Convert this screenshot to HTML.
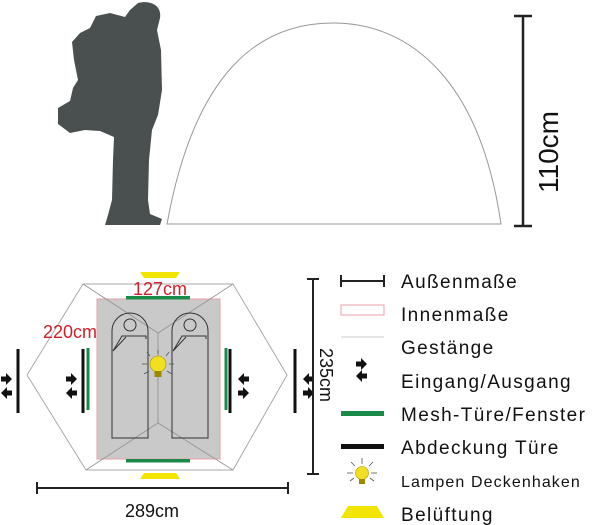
<!DOCTYPE html>
<html><head><meta charset="utf-8"><style>
body{margin:0;background:#fff;}
svg{display:block;font-family:"Liberation Sans",sans-serif;}
</style></head><body>
<svg width="600" height="525" viewBox="0 0 600 525" xmlns="http://www.w3.org/2000/svg">
<defs>
<g id="arrR"><path d="M0,-2.5 L5,-2.5 L5,-6 L11,0 L5,6 L5,2.5 L0,2.5 Z" fill="#111"/></g>
<g id="arrL"><path d="M11,-2.5 L6,-2.5 L6,-6 L0,0 L6,6 L6,2.5 L11,2.5 Z" fill="#111"/></g>
<g id="bag">
<path d="M0,125 L0,18 A18,18 0 0 1 36,18 L36,125 Z" fill="none" stroke="#333" stroke-width="1"/>
<circle cx="18" cy="12" r="6" fill="none" stroke="#333" stroke-width="1"/>
<path d="M1,38 L10,23 L34,23 L34,26 M1,38 L14,24" fill="none" stroke="#333" stroke-width="1"/>
</g>
</defs>
<!-- person -->
<path d="M138,3 C150,0 162,5 160,18 L157,30 L161,50 L162,90 L158,115 L152,130 L149,160 L148,200 L150,214 L162,219 L160,225 L105,225 L108,215 L112,200 L113,160 L114,137 L100,131 L85,130 L70,133 L58,124 L58,108 L70,101 L73,88 L78,80 L74,60 L72,42 L80,33 L90,28 L96,16 L110,13 L125,17 L130,10 Z" fill="#4a5050"/>
<!-- dome -->
<path d="M167,224 C195,70 260,23 333,23 C410,23 480,80 501,224 Z" fill="none" stroke="#999" stroke-width="1"/>
<g stroke="#222" stroke-width="2.5"><line x1="523" y1="16" x2="523" y2="226"/><line x1="514" y1="16" x2="532" y2="16"/><line x1="514" y1="226" x2="532" y2="226"/></g>
<text x="0" y="0" font-size="28" text-anchor="middle" transform="translate(558,152) rotate(-90)" fill="#111">110cm</text>
<!-- floor plan -->
<polygon points="83,284 233,284 287,375 233,470 86,470 27,375" fill="none" stroke="#aaa" stroke-width="1"/>
<rect x="97" y="299" width="123" height="160" fill="#c9c9c9" stroke="#e8a0a8" stroke-width="1"/>
<g stroke="#999" stroke-width="1" fill="none"><polyline points="83,284 158,333 233,284"/><line x1="158" y1="333" x2="158" y2="423"/><polyline points="86,470 158,423 233,470"/></g>
<use href="#bag" x="112" y="313"/><use href="#bag" x="172" y="313"/>
<rect x="126" y="296" width="64" height="3.5" fill="#1a8a4a"/>
<rect x="126" y="459" width="64" height="3.5" fill="#1a8a4a"/>
<polygon points="140,272 180,272 176,278 144,278" fill="#f2e600"/>
<polygon points="144,473 176,473 180,479 140,479" fill="#f2e600"/>
<!-- lamp -->
<g transform="translate(158,366)"><circle cx="0" cy="-2" r="8" fill="#f0e020" stroke="#b09000" stroke-width=".6"/><rect x="-3.5" y="5" width="7" height="6" fill="#998a00"/>
<g stroke="#555" stroke-width=".8"><line x1="-11" y1="-2" x2="-16" y2="-2"/><line x1="11" y1="-2" x2="16" y2="-2"/><line x1="-8" y1="-10" x2="-11" y2="-14"/><line x1="8" y1="-10" x2="11" y2="-14"/><line x1="0" y1="-12" x2="0" y2="-16"/><line x1="-9" y1="5" x2="-14" y2="8"/><line x1="9" y1="5" x2="14" y2="8"/></g></g>
<!-- doors -->
<g stroke="#111" stroke-width="3"><line x1="18" y1="349" x2="18" y2="413"/><line x1="83" y1="349" x2="83" y2="413"/><line x1="230" y1="349" x2="230" y2="413"/><line x1="295" y1="349" x2="295" y2="413"/></g>
<g stroke="#1a8a4a" stroke-width="3"><line x1="88" y1="348" x2="88" y2="410"/><line x1="226" y1="348" x2="226" y2="410"/></g>
<use href="#arrR" x="1" y="379"/><use href="#arrL" x="1" y="393"/>
<use href="#arrR" x="66" y="379"/><use href="#arrL" x="66" y="393"/>
<use href="#arrL" x="238" y="379"/><use href="#arrR" x="238" y="393"/>
<use href="#arrL" x="303" y="379"/><use href="#arrR" x="303" y="393"/>
<text x="160" y="295" font-size="18" text-anchor="middle" fill="#d0202a">127cm</text>
<text x="70" y="338" font-size="18" text-anchor="middle" fill="#d0202a">220cm</text>
<!-- dims -->
<g stroke="#222" stroke-width="2"><line x1="313" y1="279" x2="313" y2="474"/><line x1="307" y1="279" x2="319" y2="279"/><line x1="307" y1="474" x2="319" y2="474"/>
<line x1="37" y1="488" x2="288" y2="488"/><line x1="37" y1="482" x2="37" y2="494"/><line x1="288" y1="482" x2="288" y2="494"/></g>
<text font-size="18" text-anchor="middle" transform="translate(320,375) rotate(90)" fill="#111">235cm</text>
<text x="152" y="517" font-size="18" text-anchor="middle" fill="#111">289cm</text>
<!-- legend -->
<g stroke="#222" stroke-width="2"><line x1="341" y1="281" x2="384" y2="281"/><line x1="341" y1="275" x2="341" y2="287"/><line x1="384" y1="275" x2="384" y2="287"/></g>
<rect x="341" y="305" width="43" height="10" fill="none" stroke="#e8a0a8" stroke-width="1"/>
<line x1="341" y1="337" x2="384" y2="337" stroke="#ccc" stroke-width="1"/>
<use href="#arrR" x="356" y="364"/><use href="#arrL" x="356" y="376"/>
<rect x="341" y="411" width="43" height="5" fill="#1a8a4a"/>
<rect x="341" y="444" width="43" height="5" fill="#111"/>
<g transform="translate(362,473)"><circle cx="0" cy="0" r="6.5" fill="#f0e020" stroke="#b09000" stroke-width=".6"/><rect x="-3" y="6" width="6" height="5" fill="#998a00"/>
<g stroke="#555" stroke-width=".8"><line x1="-9" y1="0" x2="-15" y2="0"/><line x1="9" y1="0" x2="15" y2="0"/><line x1="-7" y1="-7" x2="-11" y2="-11"/><line x1="7" y1="-7" x2="11" y2="-11"/><line x1="0" y1="-9" x2="0" y2="-15"/><line x1="-8" y1="5" x2="-12" y2="8"/><line x1="8" y1="5" x2="12" y2="8"/></g></g>
<polygon points="348,506 377,506 384,518 341,518" fill="#f2e600"/>
<g font-size="19" fill="#111" letter-spacing="1.4">
<text x="401" y="288">Außenmaße</text>
<text x="401" y="321">Innenmaße</text>
<text x="401" y="354">Gestänge</text>
<text x="401" y="388">Eingang/Ausgang</text>
<text x="401" y="421">Mesh-Türe/Fenster</text>
<text x="401" y="454">Abdeckung Türe</text>
<text x="401" y="487" font-size="16" letter-spacing="1.1">Lampen Deckenhaken</text>
<text x="401" y="521">Belüftung</text>
</g>
</svg>
</body></html>
